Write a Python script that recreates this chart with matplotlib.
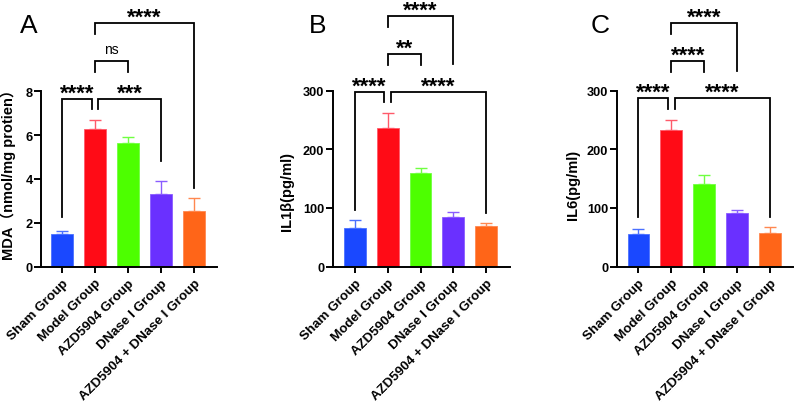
import matplotlib
matplotlib.use("Agg")
import matplotlib.pyplot as plt
import numpy as np

plt.rcParams['font.family'] = ['Liberation Sans', 'Noto Sans CJK SC', 'DejaVu Sans']

groups = ["Sham Group", "Model Group", "AZD5904 Group", "DNase I Group",
          "AZD5904 + DNase I Group"]
colors = ["#1A48FF", "#FF0B16", "#4DFF00", "#6A30FF", "#FF6518"]
err_colors = ["#4A70FF", "#FF5A6A", "#70FF40", "#8A5CFF", "#FF8850"]

mda_mean = [1.48, 6.29, 5.64, 3.29, 2.53]
mda_err = [0.15, 0.41, 0.26, 0.63, 0.59]
il1b_mean = [65.5, 236.0, 159.0, 84.2, 68.2]
il1b_err = [14.1, 26.5, 8.7, 9.3, 5.4]
il6_mean = [55.7, 233.0, 141.0, 91.5, 57.0]
il6_err = [8.6, 17.0, 15.0, 5.5, 9.5]

# brackets: (x1, x2, y, left leg bottom, right leg bottom, label)
mda_brackets = [(0, 0.9, 7.65, 2.24, 7.19, "****"),
                (1.1, 3, 7.65, 7.19, 4.83, "***"),
                (1, 2, 9.37, 8.9, 8.9, "ns"),
                (1, 4, 11.12, 10.62, 3.57, "****")]
il1b_brackets = [(0, 0.9, 298, 96.6, 280, "****"),
                 (1.1, 4, 298, 280, 91, "****"),
                 (1, 2, 362.6, 343.8, 343.8, "**"),
                 (1, 3, 427, 408, 345, "****")]
il6_brackets = [(0, 0.9, 287, 84, 269, "****"),
                (1.1, 4, 287, 269, 84, "****"),
                (1, 2, 350, 332, 332, "****"),
                (1, 3, 415, 396, 334, "****")]

W, H = 794, 406
fig = plt.figure(figsize=(W / 100, H / 100), dpi=100)


def make_axes(left, right, top, bottom):
    return fig.add_axes([left / W, 1 - bottom / H, (right - left) / W, (bottom - top) / H])


def draw_panel(ax, means, errs, ymax, yticks, ylabel, brackets, xlim, label_xy):
    x = np.arange(len(groups))
    ax.bar(x, means, width=0.66, color=colors, edgecolor=err_colors, linewidth=0.6, zorder=2)
    for i in range(len(groups)):
        ax.errorbar(x[i], means[i], yerr=[[0], [errs[i]]], fmt='none', ecolor=err_colors[i],
                    elinewidth=1.0, capsize=4.3, capthick=1.0, zorder=1)
    ax.set_xlim(*xlim)
    ax.set_ylim(0, ymax)
    ax.set_yticks(yticks)
    ax.set_xticks(x)
    ax.set_xticklabels(groups, rotation=45, ha='right', rotation_mode='anchor',
                       fontsize=9.6, fontweight='bold')
    for t in ax.get_yticklabels():
        t.set_fontweight('bold')
        t.set_fontsize(9.2)
    for s in ['top', 'right']:
        ax.spines[s].set_visible(False)
    for s in ['left', 'bottom']:
        ax.spines[s].set_linewidth(1.4)
    ax.tick_params(axis='y', length=5, width=1.4, pad=1)
    ax.tick_params(axis='x', length=4.3, width=1.4, pad=3)
    ax.set_ylabel(ylabel, fontsize=10.5, fontweight='bold')
    ax.yaxis.set_label_coords(*label_xy)
    for (x1, x2, y, b1, b2, txt) in brackets:
        ax.plot([x1, x1, x2, x2], [b1, y, y, b2], color='black', lw=1.3,
                clip_on=False, solid_joinstyle='miter', zorder=3)
        if txt == "ns":
            ax.annotate(txt, xy=((x1 + x2) / 2, y), xytext=(0, 4), textcoords='offset points',
                        ha='center', va='bottom', fontsize=10, annotation_clip=False)
        else:
            ax.annotate(txt, xy=((x1 + x2) / 2, y), xytext=(0, -3.4), textcoords='offset points',
                        ha='center', va='bottom', fontsize=16, fontweight='bold',
                        annotation_clip=False)


axA = make_axes(41, 217, 92.3, 267.5)
draw_panel(axA, mda_mean, mda_err, 8, [0, 2, 4, 6, 8], "MDA（nmol/mg protien）",
           mda_brackets, (-0.64, 4.69), (-0.142, 0.547))
axB = make_axes(332.7, 510, 91.5, 267.5)
draw_panel(axB, il1b_mean, il1b_err, 300, [0, 100, 200, 300], "IL1β(pg/ml)",
           il1b_brackets, (-0.68, 4.73), (-0.218, 0.43))
axC = make_axes(616.7, 793, 91.5, 267.5)
draw_panel(axC, il6_mean, il6_err, 300, [0, 100, 200, 300], "IL6(pg/ml)",
           il6_brackets, (-0.66, 4.7), (-0.208, 0.47))

for lab, xpx in [("A", 29), ("B", 318), ("C", 600)]:
    fig.text(xpx / W, 1 - 33 / H, lab, ha='center', va='baseline', fontsize=19)

fig.savefig("out.png", dpi=100)
